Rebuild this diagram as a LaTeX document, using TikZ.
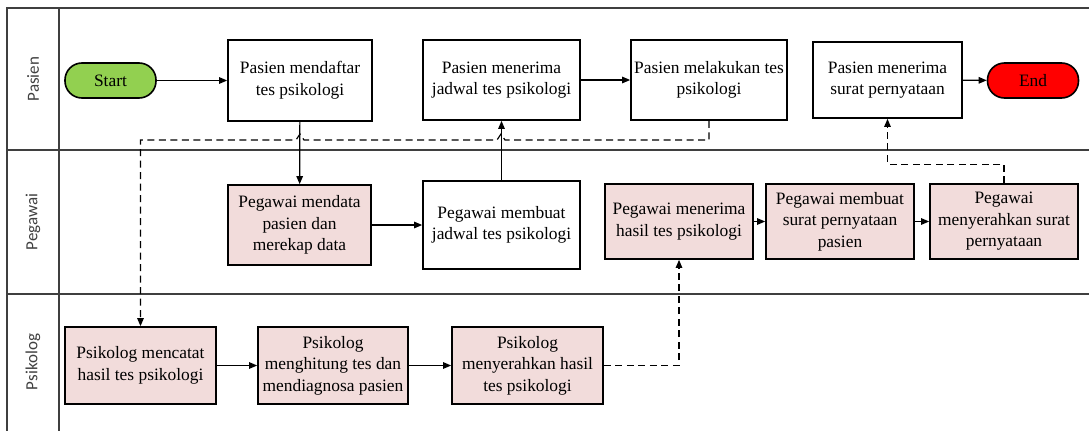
\documentclass[tikz,border=0pt]{standalone}
\usepackage{fontspec}
\setmainfont{Liberation Serif}
\newfontfamily\boxfont{Liberation Serif}
\newfontfamily\lanefont{Carlito}
\usetikzlibrary{arrows.meta,calc}
\definecolor{procpink}{HTML}{F2DCDB}
\definecolor{startgreen}{HTML}{92D050}
\definecolor{endred}{HTML}{FF0000}
\definecolor{laneline}{HTML}{3F3F3F}
\definecolor{lanetext}{HTML}{404040}
\begin{document}
\begin{tikzpicture}[x=1pt,y=-1pt,
  box/.style={draw=black,line width=1.7pt,align=center,inner sep=1pt,
    font=\boxfont\fontsize{17.4}{21.5}\selectfont},
  procw/.style={box,fill=white},
  procp/.style={box,fill=procpink},
  term/.style={draw=black,line width=1.6pt,rounded corners=17pt,
    minimum width=91pt,minimum height=35pt,inner sep=0pt,
    font=\boxfont\fontsize{17.4}{21}\selectfont},
  flow/.style={line width=1.2pt,-{Triangle[length=8pt,width=6.5pt]}},
  flowdash/.style={flow,dash pattern=on 7pt off 4.5pt},
  lane/.style={draw=laneline,line width=1.6pt},
  lanelabel/.style={rotate=90,font=\lanefont\fontsize{17}{20}\selectfont,text=lanetext}]

\useasboundingbox (0,0) rectangle (1089,431);

% swimlane frame
\draw[lane] (1089,8) -- (7,8) -- (7,431);
\draw[lane] (59,8) -- (59,431);
\draw[lane] (7,150) -- (1089,150);
\draw[lane] (7,294) -- (1089,294);
\node[lanelabel] (lpasien) at (33,79) {Pasien};
\node[lanelabel] (lpegawai) at (33,222) {Pegawai};
\node[lanelabel] (lpsikolog) at (33,362) {Psikolog};

% Pasien lane
\node[term,fill=startgreen] (start) at (110.5,80.5) {Start};
\node[procw,minimum width=144pt,minimum height=81pt] (daftar) at (300,80.5) {Pasien mendaftar\\tes psikologi};
\node[procw,minimum width=157pt,minimum height=80pt] (terimajadwal) at (501.5,80) {Pasien menerima\\jadwal tes psikologi};
\node[procw,minimum width=156pt,minimum height=80pt] (lakukan) at (709,80) {Pasien melakukan tes\\psikologi};
\node[procw,minimum width=149pt,minimum height=76pt] (terimasurat) at (887.5,80) {Pasien menerima\\surat pernyataan};
\node[term,fill=endred] (end) at (1033,80.5) {End};

% Pegawai lane
\node[procp,minimum width=143pt,minimum height=80pt] (mendata) at (299.5,225) {Pegawai mendata\\pasien dan\\merekap data};
\node[procw,minimum width=157pt,minimum height=88pt] (buatjadwal) at (501.5,225) {Pegawai membuat\\jadwal tes psikologi};
\node[procp,minimum width=148pt,minimum height=75pt] (terimahasil) at (679,221.5) {Pegawai menerima\\hasil tes psikologi};
\node[procp,minimum width=148pt,minimum height=75pt] (buatsurat) at (840,221.5) {Pegawai membuat\\surat pernyataan\\pasien};
\node[procp,minimum width=148pt,minimum height=75pt] (serahsurat) at (1004,221.5) {Pegawai\\menyerahkan surat\\pernyataan};

% Psikolog lane
\node[procp,minimum width=151pt,minimum height=77pt] (catat) at (140.5,365.5) {Psikolog mencatat\\hasil tes psikologi};
\node[procp,minimum width=150pt,minimum height=77pt] (hitung) at (333,365.5) {Psikolog\\menghitung tes dan\\mendiagnosa pasien};
\node[procp,minimum width=151pt,minimum height=77pt] (serahhasil) at (527.5,365.5) {Psikolog\\menyerahkan hasil\\tes psikologi};

% solid flows
\draw[flow] (start) -- (daftar);
\draw[flow] (daftar) -- (mendata);
\draw[flow] (mendata) -- (buatjadwal);
\draw[flow] (buatjadwal) -- (terimajadwal);
\draw[flow] (terimajadwal) -- (lakukan);
\draw[flow] (terimasurat) -- (end);
\draw[flow] (catat) -- (hitung);
\draw[flow] (hitung) -- (serahhasil);
\draw[flow] (terimahasil) -- (buatsurat);
\draw[flow] (buatsurat) -- (serahsurat);

% dashed hand-offs between lanes (with line hops over the solid flows)
\draw[flowdash] (lakukan.south) |- (505,140) -- (501,134) -- (497,140)
  -- (304,140) -- (300,134) -- (296,140) -| (catat.north);
\draw[flowdash] (serahhasil.east) -| (terimahasil.south);
\draw[flowdash] (serahsurat.north) -- ++(0,-19) -| (terimasurat.south);
\end{tikzpicture}
\end{document}
